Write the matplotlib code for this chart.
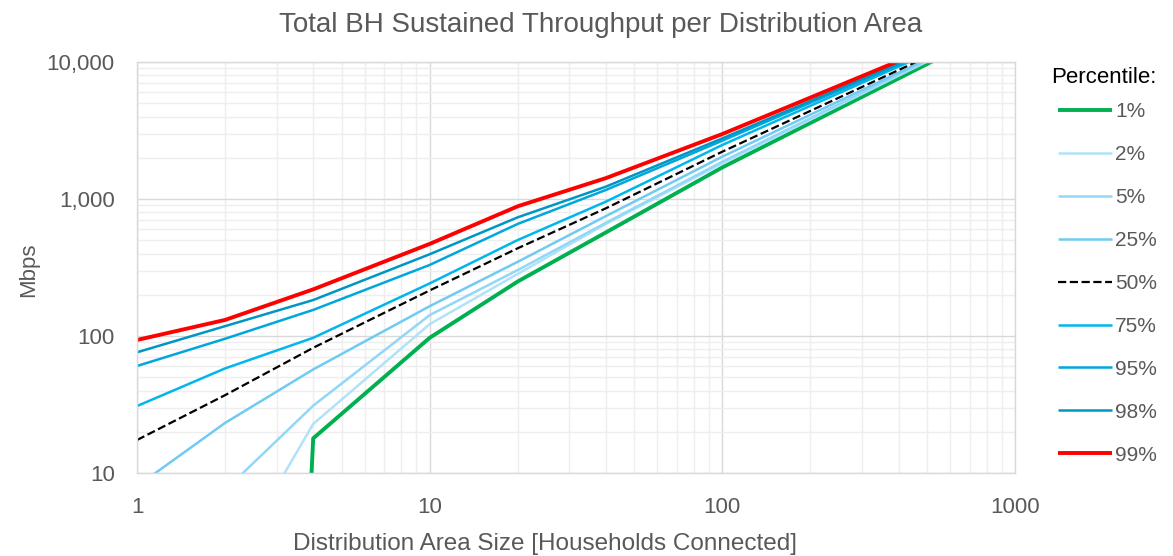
import matplotlib
matplotlib.use("Agg")
import matplotlib.pyplot as plt
import matplotlib.ticker as mticker

plt.rcParams['font.family'] = ['Liberation Sans', 'DejaVu Sans']

# households connected per distribution area
households = [1, 2, 4, 10, 20, 40, 100, 200, 400, 1000]

# sustained throughput (Mbps) per percentile
p1 = [1e-12, 1e-12, 17.9, 97, 250, 570, 1700, 3590, 7580, 20400]
p2 = [0.5, 1.8, 22.8, 122, 284, 658, 1820, 3800, 7940, 21000]
p5 = [2.0, 7.5, 31, 142, 303, 670, 1870, 3890, 8100, 21300]
p25 = [8.0, 23.2, 57, 165, 348, 750, 2037, 4125, 8350, 21200]
p50 = [17.4, 37, 82, 215, 437, 855, 2215, 4400, 8730, 21600]
p75 = [30.8, 58, 97, 242, 502, 956, 2480, 4790, 9250, 22050]
p95 = [60.4, 95.5, 155, 330, 658, 1164, 2665, 5040, 9520, 22100]
p98 = [76, 118, 183, 395, 735, 1230, 2770, 5200, 9750, 22400]
p99 = [93.5, 131, 219, 470, 885, 1420, 2980, 5500, 10170, 22900]

labels = ['1%', '2%', '5%', '25%', '50%', '75%', '95%', '98%', '99%']
series = [p1, p2, p5, p25, p50, p75, p95, p98, p99]

colors = ['#00B050', '#B0E2FA', '#92D7F7', '#6FCBF3', 'black',
          '#00B6EC', '#00A7DD', '#0096C4', '#FF0000']
widths = [2.8, 1.8, 1.8, 1.8, 1.6, 1.8, 1.8, 1.8, 2.8]
styles = ['-', '-', '-', '-', '--', '-', '-', '-', '-']

fig = plt.figure(figsize=(11.73, 5.56), dpi=100)
ax = fig.add_axes([0.1168, 0.1493, 0.7485, 0.7392])

for vals, lab, c, w, ls in zip(series, labels, colors, widths, styles):
    ax.plot(households, vals, color=c, lw=w, ls=ls, label=lab,
            solid_capstyle='butt')

ax.set_xscale('log')
ax.set_yscale('log')
ax.set_xlim(1, 1000)
ax.set_ylim(10, 10000)

ax.xaxis.set_major_locator(mticker.LogLocator(base=10))
ax.xaxis.set_minor_locator(mticker.LogLocator(base=10, subs=range(2, 10)))
ax.yaxis.set_major_locator(mticker.LogLocator(base=10))
ax.yaxis.set_minor_locator(mticker.LogLocator(base=10, subs=range(2, 10)))
ax.xaxis.set_major_formatter(mticker.FuncFormatter(lambda v, p: '%d' % v))
ax.yaxis.set_major_formatter(mticker.FuncFormatter(lambda v, p: '{:,.0f}'.format(v)))
ax.xaxis.set_minor_formatter(mticker.NullFormatter())
ax.yaxis.set_minor_formatter(mticker.NullFormatter())

ax.grid(True, which='major', color='#D9D9D9', lw=1.0)
ax.grid(True, which='minor', color='#EEEEEE', lw=1.0)
ax.set_axisbelow(True)
for s in ax.spines.values():
    s.set_color('#D9D9D9')
    s.set_linewidth(1.0)

ax.tick_params(which='both', length=0, labelsize=16, labelcolor='#595959')
ax.tick_params(axis='y', pad=16)
ax.tick_params(axis='x', pad=17)

# titles placed in figure coords, like the Excel layout
fig.text(0.5124, 0.955, 'Total BH Sustained Throughput per Distribution Area',
         fontsize=20, color='#595959', ha='center', va='center')
fig.text(0.4646, 0.021, 'Distribution Area Size [Households Connected]',
         fontsize=17.5, color='#595959', ha='center', va='center')
fig.text(0.024, 0.514, 'Mbps', fontsize=16, color='#595959',
         ha='center', va='center', rotation=90)
fig.text(0.8965, 0.8615, 'Percentile:', fontsize=16, color='black',
         ha='left', va='center')

leg = ax.legend(loc='upper left', bbox_to_anchor=(0.902, 0.8165),
                bbox_transform=fig.transFigure, frameon=False,
                fontsize=15, borderpad=0, borderaxespad=0,
                handlelength=2.6, handletextpad=0.15, labelspacing=1.15)
for t in leg.get_texts():
    t.set_color('#595959')

fig.savefig('out.png', dpi=100)
